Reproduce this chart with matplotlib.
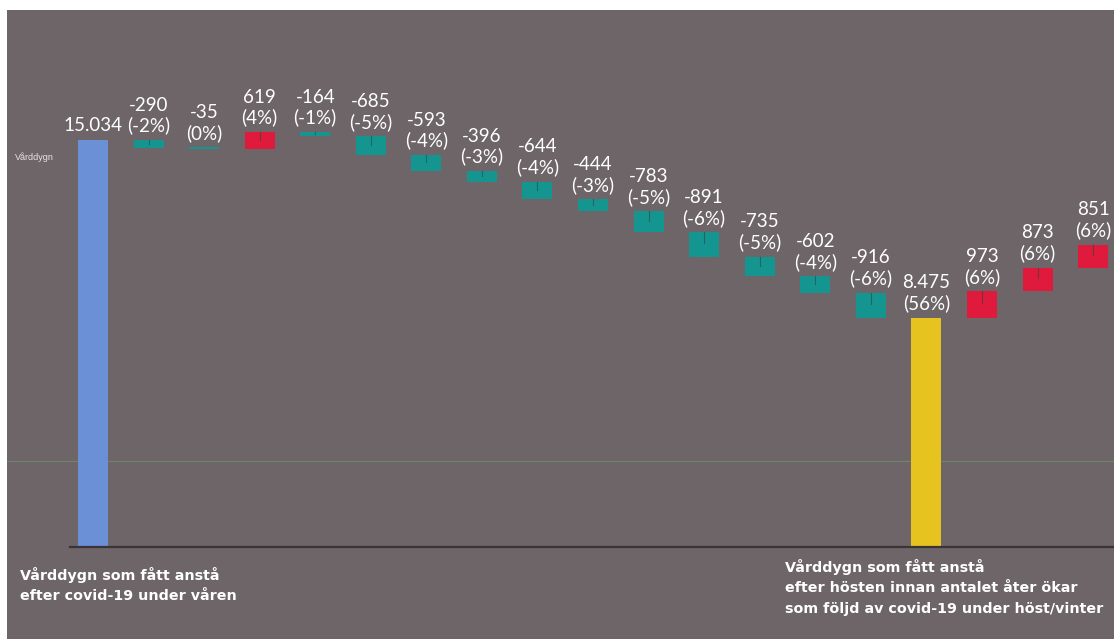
import matplotlib
matplotlib.use("Agg")
import matplotlib.pyplot as plt
import numpy as np

# Vårddygn: start level, monthly changes, level after autumn, renewed increases
start_value = 15034
changes = [-290, -35, 619, -164, -685, -593, -396, -644, -444, -783, -891, -735, -602, -916]
change_pcts = ["-2%", "0%", "4%", "-1%", "-5%", "-4%", "-3%", "-4%", "-3%", "-5%", "-6%", "-5%", "-4%", "-6%"]
total_value = 8475
total_pct = "56%"
increases = [973, 873, 851]
increase_pcts = ["6%", "6%", "6%"]

left_note = ["Vårddygn som fått anstå", "efter covid-19 under våren"]
right_note = ["Vårddygn som fått anstå",
              "efter hösten innan antalet åter ökar",
              "som följd av covid-19 under höst/vinter"]
axis_name = "Vårddygn"

W, H = 1114, 639
fig = plt.figure(figsize=(W / 100, H / 100), dpi=100, facecolor="white")
ax = fig.add_axes([7 / W, 0, (W - 7) / W, (H - 10) / H])
bg = "#6d6567"
ax.set_facecolor(bg)
for s in ax.spines.values():
    s.set_visible(False)
ax.set_xticks([])
ax.set_yticks([])

px_per_unit = 407 / 15034
ax.set_ylim(-(H - 547) / px_per_unit, (547 - 10) / px_per_unit)
step = 55.56
ax.set_xlim((7 - 93) / step, (W - 93) / step)

c_blue = "#6b90d6"
c_teal = "#15958f"
c_red = "#df1a3c"
c_yellow = "#e6c31e"
bw = 30 / step

def fmt(v):
    s = f"{abs(v):,}".replace(",", ".")
    return ("-" if v < 0 else "") + s

label_font = dict(family=["Lato", "DejaVu Sans"], fontsize=13.5, color="white",
                  ha="center", va="bottom", linespacing=1.2)

def label(x, y, txt):
    ax.annotate(txt, (x, y), xytext=(0, 4), textcoords="offset points", **label_font)

# starting bar
ax.bar(0, start_value, width=bw, color=c_blue, zorder=2)
label(0, start_value, fmt(start_value))

level = start_value
x = 1
for v, p in zip(changes + [None] + increases, change_pcts + [None] + increase_pcts):
    if v is None:
        ax.bar(x, total_value, width=bw, color=c_yellow, zorder=2)
        label(x, total_value, f"{fmt(total_value)}\n({total_pct})")
        level = total_value
        x += 1
        continue
    bottom = level + min(v, 0)
    col = c_red if v > 0 else c_teal
    hgt = max(abs(v), 60)
    ax.bar(x, hgt, bottom=bottom, width=bw, color=col, zorder=2)
    top = level + max(v, 0)
    ax.plot([x, x], [top, top - abs(v) * 0.45], color="#2f4444", lw=0.8, alpha=0.6, zorder=3)
    label(x, top, f"{fmt(v)}\n({p})")
    level += v
    x += 1

# baseline and faint reference line
ax.plot([(70 - 93) / step, (W - 93) / step], [0, 0], color="#3b3436", lw=1.6, zorder=3)
ax.axhline((547 - 461) / px_per_unit, color="#6f9a72", lw=0.8, alpha=0.6, zorder=1)

# small axis name next to the first bar
fig.text(15 / W, 1 - 157 / H, axis_name, fontsize=6.5, color="#e8e4e6",
         family=["Liberation Sans", "DejaVu Sans"], va="center", ha="left")

note_font = dict(fontsize=10.3, color="white", fontweight="bold",
                 family=["DejaVu Sans"], ha="left", va="baseline")
for i, line in enumerate(left_note):
    fig.text(20 / W, 1 - (580 + 20 * i) / H, line, **note_font)
for i, line in enumerate(right_note):
    fig.text(785 / W, 1 - (572 + 20.5 * i) / H, line, **note_font)

fig.savefig("out.png", dpi=100, facecolor="white")
